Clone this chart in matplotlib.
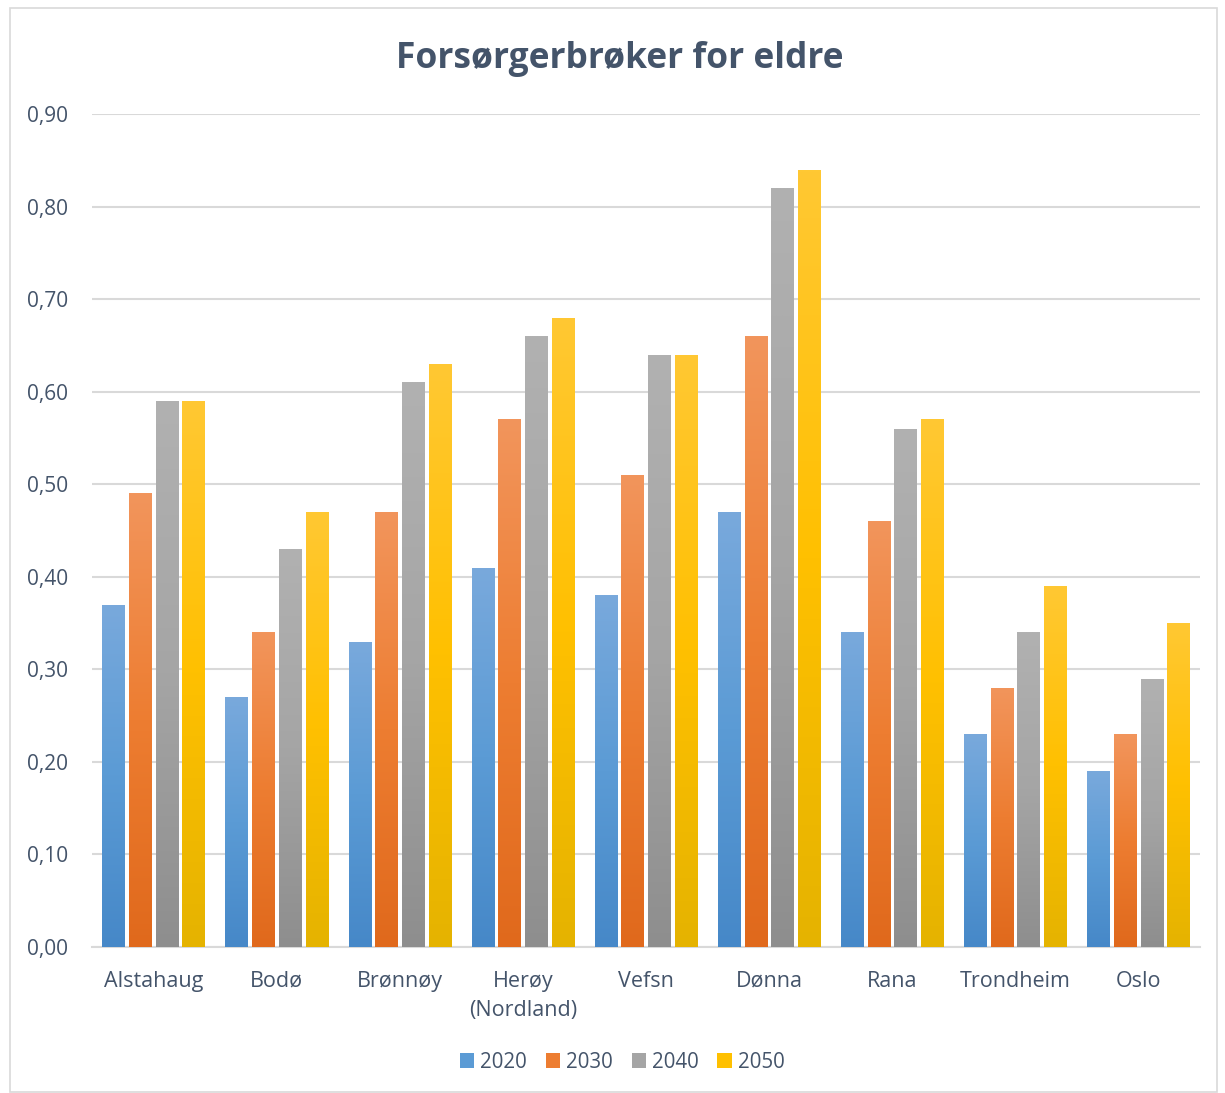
import numpy as np
import matplotlib.pyplot as plt
from matplotlib.colors import LinearSegmentedColormap
from matplotlib.patches import Rectangle

# Data
kommuner = ["Alstahaug", "Bodø", "Brønnøy", "Herøy\n(Nordland)", "Vefsn",
            "Dønna", "Rana", "Trondheim", "Oslo"]
years = ["2020", "2030", "2040", "2050"]
v2020 = [0.37, 0.27, 0.33, 0.41, 0.38, 0.47, 0.34, 0.23, 0.19]
v2030 = [0.49, 0.34, 0.47, 0.57, 0.51, 0.66, 0.46, 0.28, 0.23]
v2040 = [0.59, 0.43, 0.61, 0.66, 0.64, 0.82, 0.56, 0.34, 0.29]
v2050 = [0.59, 0.47, 0.63, 0.68, 0.64, 0.84, 0.57, 0.39, 0.35]
series = [v2020, v2030, v2040, v2050]

# gradient colours (top, middle, bottom) per series, Excel style
grads = [
    ("#79a9dc", "#5b9bd5", "#4688c8"),
    ("#f2955c", "#ed7d31", "#e0691c"),
    ("#b1b1b1", "#a5a5a5", "#8e8e8e"),
    ("#ffc833", "#ffc000", "#e5b300"),
]

text_col = "#44546a"
grid_col = "#d9d9d9"

plt.rcParams["font.family"] = ["Open Sans", "DejaVu Sans"]

fig = plt.figure(figsize=(12.25, 10.93), dpi=100)
ax = fig.add_axes([92 / 1225, 1 - 947 / 1093, 1108 / 1225, (947 - 114) / 1093])

x = np.arange(len(kommuner))
width = 0.182
step = 0.217

handles = []
for i, (vals, g) in enumerate(zip(series, grads)):
    cmap = LinearSegmentedColormap.from_list("g%d" % i, [g[2], g[1], g[0]])
    pos = x + (i - 1.5) * step
    bars = ax.bar(pos, vals, width, color=g[1], label=years[i], zorder=2)
    for b in bars:
        bx, by = b.get_x(), b.get_y()
        bw, bh = b.get_width(), b.get_height()
        grad = np.linspace(0, 1, 256).reshape(-1, 1)
        im = ax.imshow(grad, cmap=cmap, origin="lower", aspect="auto",
                       extent=[bx, bx + bw, by, by + bh], zorder=3)
        im.set_clip_path(b)
    handles.append(Rectangle((0, 0), 1, 1, facecolor=g[1]))

ax.set_xlim(-0.5, len(kommuner) - 0.5)
ax.set_ylim(0, 0.9)
ticks = np.arange(0, 0.91, 0.1)
ax.set_yticks(ticks)
ax.set_yticklabels([f"{t:.2f}".replace(".", ",") for t in ticks])
ax.set_xticks(x)
ax.set_xticklabels(kommuner, linespacing=1.5)
ax.tick_params(axis="both", length=0, colors=text_col)
ax.tick_params(axis="x", pad=17, labelsize=15.5)
ax.tick_params(axis="y", pad=17, labelsize=15)
ax.yaxis.grid(True, color=grid_col, linewidth=1.5, zorder=0)
ax.set_axisbelow(True)
for s in ["top", "right", "left"]:
    ax.spines[s].set_visible(False)
ax.spines["bottom"].set_color(grid_col)
ax.spines["bottom"].set_linewidth(1.5)

fig.text(0.506, 1 - 59 / 1093, "Forsørgerbrøker for eldre", ha="center", va="center",
         fontsize=25.5, fontweight="bold", color=text_col)

fig.legend(handles, years, loc="center", bbox_to_anchor=(0.508, 1 - 1062 / 1093),
           ncol=4, frameon=False, fontsize=14.8, labelcolor=text_col,
           handlelength=0.7, handleheight=0.7, handletextpad=0.3, columnspacing=0.9)

# chart border
fig.patches.append(Rectangle((10 / 1225, 1 / 1093), 1207 / 1225, 1084 / 1093,
                             transform=fig.transFigure, fill=False,
                             edgecolor="#d9d9d9", linewidth=1.2))

fig.savefig("out.png", dpi=100, facecolor="white")
